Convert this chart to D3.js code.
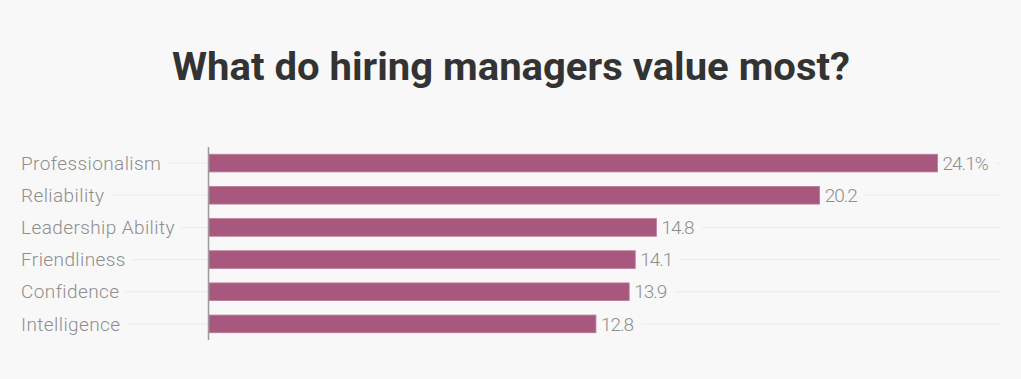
<!DOCTYPE html>
<html>
<head>
<meta charset="utf-8">
<script src="https://cdn.jsdelivr.net/npm/d3@7"></script>
<style>
  html, body { margin: 0; padding: 0; background: #f8f8f8; }
  svg { display: block; }
</style>
</head>
<body>
<div id="chart"></div>
<script>
const title = "What do hiring managers value most?";
const categories = ["Professionalism", "Reliability", "Leadership Ability", "Friendliness", "Confidence", "Intelligence"];
const values = [24.1, 20.2, 14.8, 14.1, 13.9, 12.8];
const valueLabels = ["24.1%", "20.2", "14.8", "14.1", "13.9", "12.8"];

const W = 1021, H = 379;
const svg = d3.select("#chart").append("svg").attr("width", W).attr("height", H);
svg.append("rect").attr("width", W).attr("height", H).attr("fill", "#f8f8f8");

svg.append("text")
  .attr("x", 511).attr("y", 80)
  .attr("text-anchor", "middle")
  .attr("font-family", "Roboto, 'Open Sans', sans-serif")
  .attr("font-weight", 700)
  .attr("font-size", 39)
  .attr("fill", "#333333")
  .attr("textLength", 678)
  .attr("lengthAdjust", "spacingAndGlyphs")
  .text(title);

const x = d3.scaleLinear().domain([0, 26.2]).range([209, 1001]);
const y = d3.scaleBand().domain(categories).range([147, 340]).paddingInner(0.45).paddingOuter(0.225);

const rows = svg.append("g").selectAll("g").data(categories).join("g");

// category labels
const labels = rows.append("text")
  .attr("x", 21)
  .attr("y", d => y(d) + y.bandwidth() / 2)
  .attr("dy", "0.35em")
  .attr("font-family", "Roboto, sans-serif")
  .attr("font-weight", 300)
  .attr("font-size", 19)
  .attr("letter-spacing", "0.4")
  .attr("fill", "#8e8e8e")
  .text(d => d);

// value labels
const vals = rows.append("text")
  .attr("x", (d, i) => x(values[i]) + 5)
  .attr("y", d => y(d) + y.bandwidth() / 2)
  .attr("dy", "0.35em")
  .attr("font-family", "Roboto, sans-serif")
  .attr("font-weight", 300)
  .attr("font-size", 19)
  .attr("letter-spacing", "-1")
  .attr("fill", "#8e8e8e")
  .text((d, i) => valueLabels[i]);

// gridlines: left part (label to axis), right part (value label to end)
labels.each(function(d) {
  const w = this.getComputedTextLength();
  d3.select(this.parentNode).insert("line", ":first-child")
    .attr("x1", 21 + w + 6).attr("x2", x(0))
    .attr("y1", y(d) + y.bandwidth() / 2).attr("y2", y(d) + y.bandwidth() / 2)
    .attr("stroke", "#ebebeb").attr("stroke-width", 1);
});
vals.each(function(d, i) {
  const w = this.getComputedTextLength();
  const sx = x(values[i]) + 5 + w + 8;
  d3.select(this.parentNode).insert("line", ":first-child")
    .attr("x1", Math.min(sx, x.range()[1] - 3)).attr("x2", x.range()[1])
    .attr("y1", y(d) + y.bandwidth() / 2).attr("y2", y(d) + y.bandwidth() / 2)
    .attr("stroke", "#ebebeb").attr("stroke-width", 1);
});

// bars
rows.append("rect")
  .attr("x", x(0))
  .attr("y", d => y(d))
  .attr("width", (d, i) => x(values[i]) - x(0))
  .attr("height", y.bandwidth())
  .attr("fill", "#a8577f")
  .attr("stroke", "#c07a9c")
  .attr("stroke-width", 0.8);

// axis line
svg.append("line")
  .attr("x1", 208.5).attr("x2", 208.5)
  .attr("y1", 147).attr("y2", 340)
  .attr("stroke", "#9a9a9a").attr("stroke-width", 1.5);
</script>
</body>
</html>
